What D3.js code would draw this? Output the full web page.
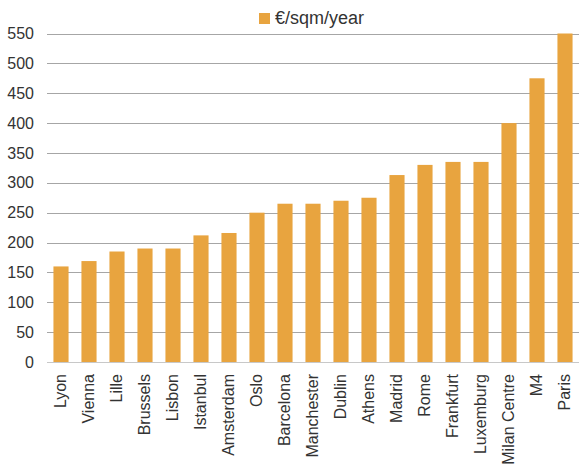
<!DOCTYPE html>
<html>
<head>
<meta charset="utf-8">
<script src="https://cdn.jsdelivr.net/npm/d3@7"></script>
<style>
  html, body { margin: 0; padding: 0; background: #fff; }
  svg { display: block; font-family: "Liberation Sans", Arial, sans-serif; }
</style>
</head>
<body>
<svg id="chart" width="579" height="473"></svg>
<script>
// Office rents by city
const cities = ["Lyon", "Vienna", "Lille", "Brussels", "Lisbon", "Istanbul", "Amsterdam", "Oslo",
  "Barcelona", "Manchester", "Dublin", "Athens", "Madrid", "Rome", "Frankfurt", "Luxemburg",
  "Milan Centre", "M4", "Paris"];
const rents = [160, 169, 185, 190, 190, 212, 216, 250, 265, 265, 270, 275, 313, 330, 335, 335, 400, 475, 550];
const yTicks = [0, 50, 100, 150, 200, 250, 300, 350, 400, 450, 500, 550];
const seriesName = "€/sqm/year";

const svg = d3.select("#chart");
const margin = { left: 47, right: 0, top: 33.5, bottom: 111 };
const W = 579, H = 473;
const barColor = "#E8A43F";
const textColor = "#333";

const x = d3.scaleBand().domain(cities).range([margin.left, W - margin.right]).paddingInner(0.46).paddingOuter(0.23);
const y = d3.scaleLinear().domain([0, 550]).range([H - margin.bottom, margin.top]);

// Horizontal gridlines
svg.append("g").selectAll("line").data(yTicks).join("line")
  .attr("x1", margin.left).attr("x2", W)
  .attr("y1", d => Math.round(y(d)) + 0.5).attr("y2", d => Math.round(y(d)) + 0.5)
  .attr("stroke", d => d === 0 ? "#c8c8c8" : "#a6a6a6").attr("stroke-width", 1);

// Y axis labels
const yAxis = d3.axisLeft(y).tickValues(yTicks).tickSize(0).tickPadding(13);
svg.append("g").attr("transform", `translate(${margin.left},0)`).call(yAxis)
  .call(g => g.select(".domain").remove())
  .call(g => g.selectAll("text").attr("font-size", 16).attr("fill", textColor)
    .attr("font-family", "Liberation Sans, Arial, sans-serif"));

// Bars
svg.append("g").selectAll("rect").data(cities).join("rect")
  .attr("x", d => x(d)).attr("width", x.bandwidth())
  .attr("y", (d, i) => y(rents[i])).attr("height", (d, i) => y(0) - y(rents[i]))
  .attr("fill", barColor);

// Category labels, rotated
const xAxis = d3.axisBottom(x).tickSize(0).tickPadding(0);
svg.append("g").attr("transform", `translate(0,${y(0)})`).call(xAxis)
  .call(g => g.select(".domain").remove())
  .call(g => g.selectAll("text")
    .attr("font-size", 16).attr("fill", textColor)
    .attr("font-family", "Liberation Sans, Arial, sans-serif")
    .attr("text-anchor", "end").attr("dy", "0.35em")
    .attr("transform", "translate(-1,12) rotate(-90)")
    .attr("x", 0).attr("y", 0));

// Legend
const legend = svg.append("g").attr("transform", "translate(259,13)");
legend.append("rect").attr("width", 11).attr("height", 11).attr("fill", barColor);
legend.append("text").attr("x", 16).attr("y", 11).attr("font-size", 18).attr("fill", textColor).text(seriesName);
</script>
</body>
</html>
